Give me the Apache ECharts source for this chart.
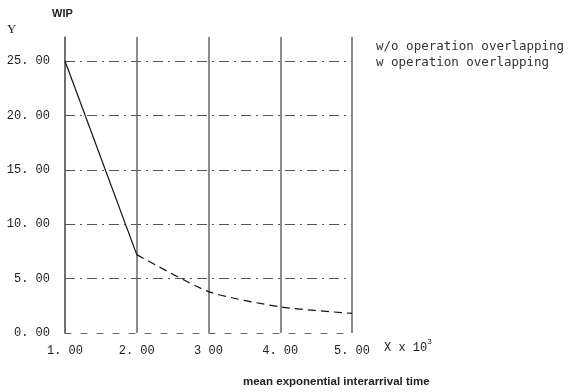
<!DOCTYPE html>
<html>
<head>
<meta charset="utf-8">
<script src="https://cdn.jsdelivr.net/npm/echarts@6/dist/echarts.min.js"></script>
<style>html,body{margin:0;padding:0;background:#fff}#c{width:570px;height:392px}</style>
</head>
<body>
<div id="c"></div>
<script>
var xValues = [1, 2, 3, 4, 5];
var seriesNames = ['w/o operation overlapping', 'w operation overlapping'];
var woOverlap = [25.0, 7.2, null, null, null];
var wOverlap = [null, 7.2, 3.8, 2.4, 1.8];
var yTickLabels = {0: '0. 00', 5: '5. 00', 10: '10. 00', 15: '15. 00', 20: '20. 00', 25: '25. 00'};
var xTickLabels = {1: '1. 00', 2: '2. 00', 3: '3 00', 4: '4. 00', 5: '5. 00'};

function pairs(vals) {
  return xValues.map(function (x, i) { return [x, vals[i]]; });
}

var chart = echarts.init(document.getElementById('c'), null, {renderer: 'canvas'});
var tickFont = {fontFamily: 'Liberation Mono', fontSize: 12, color: '#222'};
chart.setOption({
  animation: false,
  backgroundColor: '#fff',
  grid: {left: 65, right: 218, top: 37, bottom: 59},
  legend: {
    orient: 'vertical', left: 366, top: 35, itemWidth: 0, itemHeight: 0, itemGap: 3,
    icon: 'rect',
    textStyle: {fontFamily: 'DejaVu Sans Mono', fontSize: 12.5, color: '#333'},
    data: seriesNames
  },
  xAxis: {
    type: 'value', min: 1, max: 5, interval: 1,
    axisLine: {show: true, lineStyle: {color: '#666', type: [6, 10], width: 1}},
    axisTick: {show: false},
    axisLabel: Object.assign({margin: 12, formatter: function (v) { return xTickLabels[v] || ''; }}, tickFont),
    splitLine: {show: true, lineStyle: {color: '#666', width: 1.5}}
  },
  yAxis: {
    type: 'value', min: 0, max: 27.2, interval: 5,
    axisLine: {show: true, lineStyle: {color: '#666', width: 1.5}},
    axisTick: {show: false},
    axisLabel: Object.assign({margin: 15, showMaxLabel: false, formatter: function (v) { return yTickLabels[v] || ''; }}, tickFont),
    splitLine: {show: true, showMinLine: false, showMaxLine: false, lineStyle: {color: '#555', type: [10, 5, 2, 5], width: 1}}
  },
  graphic: [
    {type: 'text', left: 52, top: 8, style: {text: 'WIP', font: 'bold 11px Liberation Sans', fill: '#222'}},
    {type: 'text', left: 7, top: 23, style: {text: 'Y', font: '13px Liberation Serif', fill: '#222'}},
    {type: 'text', left: 384, top: 338, style: {
      text: '{a|X x 10}{s|3}', fill: '#222',
      rich: {a: {font: '12px Liberation Mono', fill: '#222', verticalAlign: 'bottom'}, s: {font: '8px Liberation Sans', fill: '#222', verticalAlign: 'top', padding: [0, 0, 8, 0]}}
    }},
    {type: 'text', left: 243, top: 376, style: {text: 'mean exponential interarrival time', font: 'bold 11.5px Liberation Sans', fill: '#222'}}
  ],
  series: [
    {name: seriesNames[0], type: 'line', data: pairs(woOverlap), showSymbol: false, connectNulls: false,
     lineStyle: {color: '#111', width: 1.2, type: 'solid'}, itemStyle: {color: '#111'}},
    {name: seriesNames[1], type: 'line', data: pairs(wOverlap), showSymbol: false, smooth: 0.2,
     lineStyle: {color: '#111', width: 1.2, type: [8, 5]}, itemStyle: {color: '#111'}}
  ]
});
</script>
</body>
</html>
